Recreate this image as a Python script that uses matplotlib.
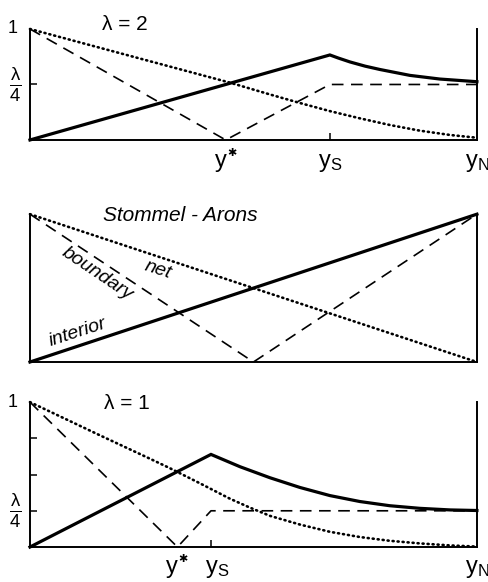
import matplotlib
matplotlib.use('Agg')
import matplotlib.pyplot as plt

plt.rcParams['font.family'] = ['Liberation Sans', 'DejaVu Sans']
plt.rcParams['mathtext.fontset'] = 'custom'
plt.rcParams['mathtext.rm'] = 'Liberation Sans'
plt.rcParams['mathtext.it'] = 'Liberation Sans:italic'
plt.rcParams['mathtext.default'] = 'regular'

# top panel, lambda = 2
x1_int = [0, 0.671, 0.69, 0.716, 0.75, 0.783, 0.850, 0.917, 1.0]
v1_int = [0, 0.766, 0.738, 0.703, 0.665, 0.635, 0.582, 0.549, 0.525]
x1_bnd = [0, 0.438, 0.671, 1.0]
v1_bnd = [1, 0, 0.5, 0.5]
x1_net = [0, 0.157, 0.268, 0.358, 0.447, 0.537, 0.604, 0.671, 0.738, 0.805, 0.872, 0.94, 1.0]
v1_net = [1, 0.83, 0.71, 0.613, 0.517, 0.41, 0.333, 0.26, 0.195, 0.135, 0.084, 0.045, 0.02]
y1_star, y1_s = 0.438, 0.671

# middle panel, Stommel-Arons
x2_int = [0, 1]
v2_int = [0, 1]
x2_bnd = [0, 0.5, 1]
v2_bnd = [1, 0, 1]
x2_net = [0, 1]
v2_net = [1, 0]

# bottom panel, lambda = 1
x3_int = [0, 0.405, 0.470, 0.537, 0.604, 0.671, 0.738, 0.805, 0.872, 0.94, 1.0]
v3_int = [0, 0.639, 0.554, 0.478, 0.411, 0.355, 0.314, 0.285, 0.267, 0.256, 0.252]
x3_bnd = [0, 0.330, 0.405, 1.0]
v3_bnd = [1, 0, 0.25, 0.25]
x3_net = [0, 0.157, 0.268, 0.313, 0.38, 0.447, 0.492, 0.537, 0.604, 0.671, 0.738, 0.805, 0.872, 0.94, 1.0]
v3_net = [1, 0.77, 0.61, 0.544, 0.44, 0.334, 0.272, 0.215, 0.155, 0.105, 0.069, 0.043, 0.025, 0.011, 0.003]
y3_star, y3_s = 0.330, 0.405

fig = plt.figure(figsize=(4.89, 5.82), dpi=100)
ax1 = fig.add_axes([0.0613, 0.7595, 0.914, 0.1907])
ax2 = fig.add_axes([0.0613, 0.378, 0.914, 0.254])
ax3 = fig.add_axes([0.0613, 0.0601, 0.914, 0.249])

def draw(ax, xi, vi, xb, vb, xn, vn):
    ax.plot(xi, vi, color='black', lw=2.3, solid_joinstyle='miter', clip_on=False)
    ax.plot(xb, vb, color='black', lw=1.2, linestyle=(0, (7, 4.5)), clip_on=False)
    ax.plot(xn, vn, color='black', lw=1.9, linestyle=(0, (0.4, 1.5)),
            dash_capstyle='round', clip_on=False)
    ax.set_xlim(0, 1)
    ax.set_ylim(0, 1)
    ax.spines['top'].set_visible(False)
    for s in ['left', 'bottom', 'right']:
        ax.spines[s].set_linewidth(1.4)
    ax.tick_params(direction='in', length=5, width=1.1, labelleft=False, labelbottom=False)
    ax.set_xticks([])
    ax.set_yticks([])

def ystar(ax, x, y):
    ax.text(x, y, 'y', ha='center', va='baseline', fontsize=17)
    ax.annotate('✱', xy=(x, y), xytext=(7.5, 6.5), textcoords='offset points',
                ha='center', va='bottom', fontsize=8, annotation_clip=False)

draw(ax1, x1_int, v1_int, x1_bnd, v1_bnd, x1_net, v1_net)
draw(ax2, x2_int, v2_int, x2_bnd, v2_bnd, x2_net, v2_net)
draw(ax3, x3_int, v3_int, x3_bnd, v3_bnd, x3_net, v3_net)

# top panel decorations
ax1.set_xticks([y1_s])
ax1.set_yticks([0.5])
ax1.text(-0.038, 1.0, '1', ha='center', va='center', fontsize=13)
ax1.text(-0.034, 0.5, r'$\frac{\lambda}{4}$', ha='center', va='center', fontsize=19)
ax1.text(0.2125, 1.04, 'λ = 2', ha='center', va='center', fontsize=15)
ystar(ax1, y1_star - 0.01, -0.24)
ax1.text(y1_s, -0.24, r'$y_S$', ha='center', va='baseline', fontsize=17)
ax1.text(1.0, -0.24, r'$y_N$', ha='center', va='baseline', fontsize=17)

# middle panel labels
ax2.text(0.336, 0.993, 'Stommel - Arons', ha='center', va='center',
         fontsize=15, style='italic')
ax2.text(0.286, 0.625, 'net', ha='center', va='center', fontsize=14,
         style='italic', rotation=-18)
ax2.text(0.15, 0.60, 'boundary', ha='center', va='center', fontsize=14,
         style='italic', rotation=-34)
ax2.text(0.107, 0.20, 'interior', ha='center', va='center', fontsize=14,
         style='italic', rotation=18)

# bottom panel decorations
ax3.set_xticks([y3_s])
ax3.set_yticks([0.25, 0.5, 0.75])
ax3.text(-0.038, 1.0, '1', ha='center', va='center', fontsize=13)
ax3.text(-0.034, 0.25, r'$\frac{\lambda}{4}$', ha='center', va='center', fontsize=19)
ax3.text(0.217, 0.99, 'λ = 1', ha='center', va='center', fontsize=15)
ystar(ax3, y3_star - 0.012, -0.18)
ax3.text(y3_s + 0.014, -0.18, r'$y_S$', ha='center', va='baseline', fontsize=17)
ax3.text(1.0, -0.18, r'$y_N$', ha='center', va='baseline', fontsize=17)

fig.savefig('out.png', dpi=100)
